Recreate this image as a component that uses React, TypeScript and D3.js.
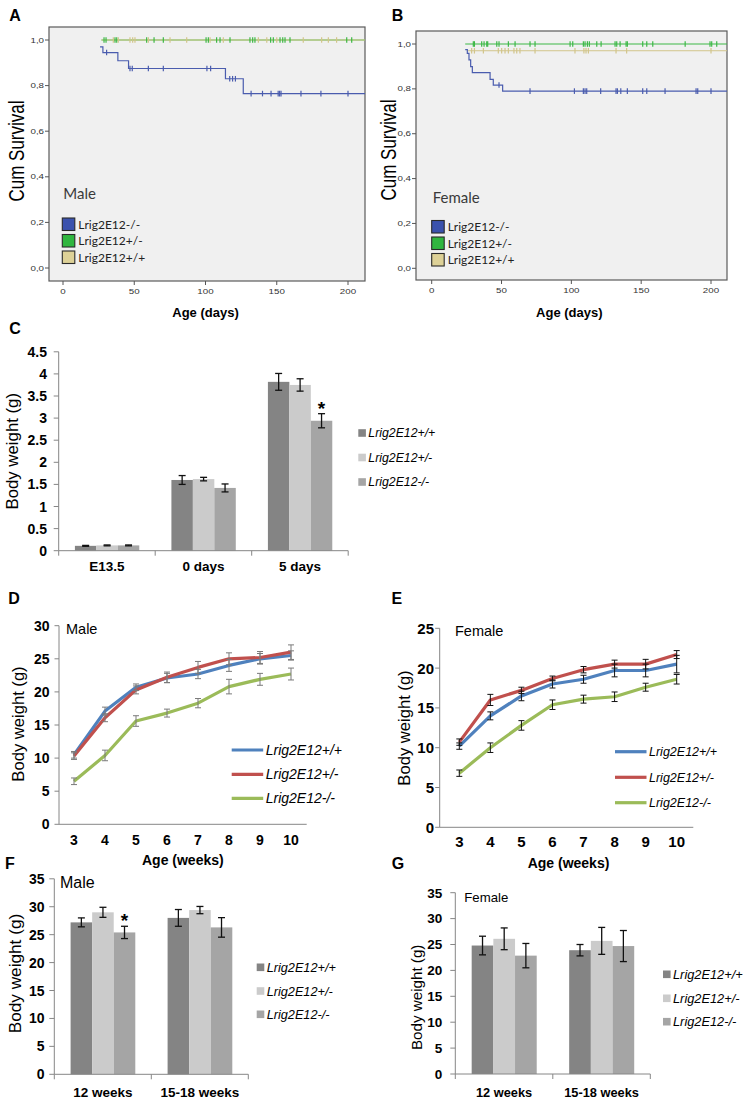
import React from 'react';
import * as d3 from 'd3';

const SANS = '"Liberation Sans", Arial, Helvetica, sans-serif';
const CAL = 'Lato, "Open Sans", sans-serif';

// ---------------- A / B : Kaplan-Meier survival ----------------
const survTicks = [0, 0.2, 0.4, 0.6, 0.8, 1.0];
const dayTicks = [0, 50, 100, 150, 200];
const survLegend = ['Lrig2E12-/-', 'Lrig2E12+/-', 'Lrig2E12+/+'];

const maleKoDays = [26, 28, 38.5, 46, 114, 126.5, 212];
const maleKoSurv = [0.97, 0.945, 0.909, 0.875, 0.83, 0.765, 0.765];
const maleKoCensor = [30.6, 47, 48.6, 59.9, 70.4, 101, 103.6, 117, 119, 121, 132, 140, 146, 151, 152, 153, 167, 181, 200];
const maleHetDays = [27, 212];
const maleHetSurv = [1, 1];
const maleHetCensor = [28.8, 30.2, 36.5, 37.7, 58.7, 63.9, 70.4, 100.4, 102, 107.8, 110.2, 117.2, 131.2, 133.1, 134.7, 145.7, 147.6, 152.3, 154.2, 155.8, 159.3, 199.1, 202.6];
const maleWtDays = [27, 212];
const maleWtSurv = [1, 1];
const maleWtCensor = [35.3, 38.8, 47, 48.9, 50.5, 59.9, 75.1, 86.8, 103.2, 112.5, 137.1, 143, 150, 168.6, 181.5, 186.2, 192];

const femaleKoDays = [24, 25.5, 26.7, 27.9, 29.1, 41.8, 44.1, 50.8, 212];
const femaleKoSurv = [0.975, 0.958, 0.929, 0.899, 0.872, 0.842, 0.817, 0.79, 0.79];
const femaleKoCensor = [48.2, 70.4, 102.2, 108.6, 109.8, 111, 121, 132, 133, 135.4, 140.1, 151.1, 154, 167.1, 189.3, 190.5, 200];
const femaleHetDays = [24, 212];
const femaleHetSurv = [1, 1];
const femaleHetCensor = [29.8, 30.6, 35.8, 37.5, 39.4, 40.1, 46.6, 48.2, 54.9, 59.7, 70.4, 74, 99.1, 101, 108.6, 109.8, 111.5, 112.9, 118.2, 121.3, 131.3, 132.5, 134.9, 139.2, 140.1, 151.1, 154, 158.3, 181.5, 199.3, 200.5, 204.1];
const femaleWtDays = [26, 212];
const femaleWtSurv = [0.97, 0.97];
const femaleWtCensor = [28.6, 30.6, 37, 47.7, 50.1, 52.5, 54.9, 58.9, 60.9, 63.2, 74, 102.6, 109, 110.5, 112.2, 132, 139.6, 200];

// ---------------- C : body weight, neonatal ----------------
const barSeries = ['Lrig2E12+/+', 'Lrig2E12+/-', 'Lrig2E12-/-'];
const cCats = ['E13.5', '0 days', '5 days'];
const cWt = [0.11, 1.6, 3.82];
const cWtErr = [0.01, 0.1, 0.19];
const cHet = [0.12, 1.62, 3.75];
const cHetErr = [0.01, 0.04, 0.14];
const cKo = [0.12, 1.42, 2.94];
const cKoErr = [0.01, 0.09, 0.16];
const cTicks = [0, 0.5, 1, 1.5, 2, 2.5, 3, 3.5, 4, 4.5];
const cStar = { cat: '5 days', series: 2 };

// ---------------- D / E : growth curves ----------------
const weeks = ['3', '4', '5', '6', '7', '8', '9', '10'];
const dWt = [10.5, 17.1, 20.7, 22.1, 22.7, 24.0, 25.0, 25.5];
const dWtErr = [0.5, 0.6, 0.5, 0.7, 0.7, 0.9, 0.8, 0.7];
const dHet = [10.3, 16.1, 20.3, 22.2, 23.7, 25.0, 25.2, 26.0];
const dHetErr = [0.5, 0.6, 0.6, 0.8, 0.9, 0.9, 0.9, 1.1];
const dKo = [6.5, 10.4, 15.6, 16.8, 18.3, 20.8, 21.9, 22.7];
const dKoErr = [0.5, 0.8, 0.8, 0.6, 0.7, 1.1, 0.9, 0.9];
const dTicks = [0, 5, 10, 15, 20, 25, 30];

const eWt = [10.2, 14.0, 16.5, 18.0, 18.6, 19.7, 19.7, 20.5];
const eWtErr = [0.4, 0.5, 0.6, 0.5, 0.5, 0.8, 0.8, 1.1];
const eHet = [10.7, 16.0, 17.2, 18.7, 19.8, 20.5, 20.5, 21.7];
const eHetErr = [0.4, 0.7, 0.4, 0.3, 0.4, 0.5, 0.6, 0.5];
const eKo = [6.8, 10.0, 12.8, 15.4, 16.1, 16.4, 17.6, 18.6];
const eKoErr = [0.4, 0.6, 0.6, 0.6, 0.5, 0.6, 0.5, 0.6];
const eTicks = [0, 5, 10, 15, 20, 25];

// ---------------- F / G : adult weights ----------------
const adultCats = ['12 weeks', '15-18 weeks'];
const fWt = [27.2, 28.0];
const fWtErr = [0.8, 1.5];
const fHet = [29.0, 29.4];
const fHetErr = [0.9, 0.65];
const fKo = [25.4, 26.3];
const fKoErr = [1.1, 1.75];
const fStar = { cat: '12 weeks', series: 2 };
const gWt = [24.8, 23.9];
const gWtErr = [1.8, 1.1];
const gHet = [26.1, 25.7];
const gHetErr = [2.1, 2.6];
const gKo = [22.85, 24.7];
const gKoErr = [2.35, 3.0];
const fgTicks = [0, 5, 10, 15, 20, 25, 30, 35];

// ---------------- styles ----------------
const survLine = ['#4a5cae', '#3cb846', '#d2c58a'];
const survFill = ['#3b52ad', '#30b63f', '#ddd197'];
const barColors = ['#848484', '#cbcbcb', '#a5a5a5'];
const lineColors = ['#4f81bd', '#c0504d', '#9bbb59'];
const AXIS = '#868686';

type Curve = { days: number[]; surv: number[]; censor: number[]; color: string };

function survAt(c: Curve, d: number) {
  let s = c.surv[0];
  c.days.forEach((dd, i) => { if (dd <= d) s = c.surv[i]; });
  return s;
}

function Survival({ L, curves, title, id }: any) {
  const x = d3.scaleLinear().domain([0, 200]).range(L.xRange);
  const y = d3.scaleLinear().domain([0, 1]).range(L.yRange);
  const line = d3.line<[number, number]>().x(p => x(p[0])).y(p => y(p[1])).curve(d3.curveStepAfter);
  const f = L.frame;
  const fmt = (v: number) => v.toFixed(1).replace('.', ',');
  return (
    <g>
      <defs>
        <clipPath id={id}><rect x={f.l} y={f.t} width={f.r - f.l} height={f.b - f.t} /></clipPath>
      </defs>
      <rect x={f.l} y={f.t} width={f.r - f.l} height={f.b - f.t} fill="#f0f0f0" stroke="#5a5a5a" strokeWidth={1.2} />
      {survTicks.map(t => (
        <g key={t}>
          <line x1={f.l - 4} x2={f.l} y1={y(t)} y2={y(t)} stroke="#555" />
          <text transform={`translate(${f.l - 5},${y(t) + 2.5}) scale(1.3,1)`} textAnchor="end" fontSize={7.5} fill="#333">{fmt(t)}</text>
        </g>
      ))}
      {dayTicks.map(t => (
        <g key={t}>
          <line x1={x(t)} x2={x(t)} y1={f.b} y2={f.b + 4} stroke="#555" />
          <text transform={`translate(${x(t)},${f.b + 12.5}) scale(1.3,1)`} textAnchor="middle" fontSize={7.5} fill="#333">{t}</text>
        </g>
      ))}
      <g clipPath={`url(#${id})`}>
        {curves.map((c: Curve, i: number) => (
          <path key={i} d={line(c.days.map((d, k) => [d, c.surv[k]] as [number, number])) || ''} fill="none" stroke={c.color} strokeWidth={1.2} />
        ))}
        {curves.map((c: Curve, i: number) => (
          <g key={'c' + i}>
            {c.censor.map((d, k) => (
              <line key={k} x1={x(d)} x2={x(d)} y1={y(survAt(c, d)) - 2.8} y2={y(survAt(c, d)) + 2.8} stroke={c.color} strokeWidth={1.2} />
            ))}
          </g>
        ))}
      </g>
      <text transform={`translate(${L.ylabX},${L.ylabY}) rotate(-90) scale(1,1.3)`} textAnchor="middle" dominantBaseline="central" fontSize={17}>Cum Survival</text>
      <text x={(L.xRange[0] + L.xRange[1]) / 2 + L.xlabDx} y={316.5} textAnchor="middle" fontSize={13} fontWeight="bold">Age (days)</text>
      <text x={L.legX + 1} y={L.titleY} fontSize={15} fontFamily={CAL} fill="#3a3a3a">{title}</text>
      {survLegend.map((s, i) => (
        <g key={s}>
          <rect x={L.legX} y={L.rowY[i] - 6} width={12.5} height={12.5} fill={survFill[i]} stroke="#2a2a2a" strokeWidth={1.1} />
          <text x={L.legX + 16} y={L.rowY[i] + 4.5} fontSize={12} fontFamily={CAL} fill="#222">{s}</text>
        </g>
      ))}
    </g>
  );
}

function ErrBar({ x, y1, y2, w, color, sw }: any) {
  return (
    <g stroke={color} strokeWidth={sw}>
      <line x1={x} x2={x} y1={y1} y2={y2} />
      <line x1={x - w / 2} x2={x + w / 2} y1={y1} y2={y1} />
      <line x1={x - w / 2} x2={x + w / 2} y1={y2} y2={y2} />
    </g>
  );
}

function BarPanel({ cats, vals, errs, yMax, ticks, L, star }: any) {
  const x0 = d3.scaleBand<string>().domain(cats).range([L.x0, L.x1]).padding(0);
  const bw = x0.bandwidth();
  const x1 = d3.scaleBand<string>().domain(barSeries).range([bw * 0.168, bw * 0.835]).padding(0);
  const y = d3.scaleLinear().domain([0, yMax]).range([L.yB, L.yT]);
  const fmt = (v: number) => String(v);
  return (
    <g>
      {cats.map((c: string, ci: number) => barSeries.map((s, si) => {
        const v = vals[si][ci];
        const e = errs[si][ci];
        const bx = (x0(c) as number) + (x1(s) as number);
        return (
          <g key={c + s}>
            <rect x={bx} y={y(v)} width={x1.bandwidth()} height={L.yB - y(v)} fill={barColors[si]} />
            <ErrBar x={bx + x1.bandwidth() / 2} y1={y(v + e)} y2={y(v - e)} w={7} color="#111" sw={1.3} />
          </g>
        );
      }))}
      {star && (() => {
        const ci = cats.indexOf(star.cat);
        const si = star.series;
        const bx = (x0(star.cat) as number) + (x1(barSeries[si]) as number) + x1.bandwidth() / 2;
        const top = y(vals[si][ci] + errs[si][ci]);
        return <text x={bx} y={top + 1} textAnchor="middle" fontSize={19} fontWeight="bold">*</text>;
      })()}
      <line x1={L.x0} x2={L.x0} y1={L.yT} y2={L.yB} stroke={AXIS} />
      <line x1={L.x0} x2={L.x1} y1={L.yB} y2={L.yB} stroke={AXIS} />
      {ticks.map((t: number) => (
        <g key={t}>
          <line x1={L.x0 - 5} x2={L.x0} y1={y(t)} y2={y(t)} stroke={AXIS} />
          <text x={L.tickRight} y={y(t)} dy="0.36em" textAnchor="end" fontSize={L.tickFont} fontWeight="bold">{fmt(t)}</text>
        </g>
      ))}
      {[...cats.map((c: string) => x0(c) as number), L.x1].map((xx: number, i: number) => (
        <line key={i} x1={xx} x2={xx} y1={L.yB} y2={L.yB + 5} stroke={AXIS} />
      ))}
      {cats.map((c: string) => (
        <text key={c} x={(x0(c) as number) + bw / 2} y={L.catY} textAnchor="middle" fontSize={L.catFont} fontWeight="bold">{c}</text>
      ))}
      <text transform={`translate(${L.ylabX},${(L.yT + L.yB) / 2 + L.ylabDy}) rotate(-90)`} textAnchor="middle" dominantBaseline="central" fontSize={L.ylabFont}>Body weight (g)</text>
      {L.title && <text x={L.titleX} y={L.titleY} fontSize={L.titleFont}>{L.title}</text>}
      {barSeries.map((s, i) => (
        <g key={s}>
          <rect x={L.legX} y={L.legY[i] - 3.8} width={7.6} height={7.6} fill={barColors[i]} />
          <text x={L.legX + 10} y={L.legY[i]} dy="0.36em" fontSize={L.legFont} fontStyle="italic">{s}</text>
        </g>
      ))}
    </g>
  );
}

function LinePanel({ vals, errs, yMax, ticks, L, errColor }: any) {
  const x = d3.scalePoint<string>().domain(weeks).range(L.xRange);
  const y = d3.scaleLinear().domain([0, yMax]).range([L.yB, L.yT]);
  const line = d3.line<number>().x((_, i) => x(weeks[i]) as number).y(v => y(v));
  return (
    <g>
      <line x1={L.axX} x2={L.axX} y1={L.yT} y2={L.yB} stroke={AXIS} />
      <line x1={L.axX} x2={L.axR} y1={L.yB} y2={L.yB} stroke={AXIS} />
      {ticks.map((t: number) => (
        <g key={t}>
          <line x1={L.axX - 4.5} x2={L.axX} y1={y(t)} y2={y(t)} stroke={AXIS} />
          <text x={L.tickRight} y={y(t)} dy="0.36em" textAnchor="end" fontSize={L.tickFont} fontWeight="bold">{t}</text>
        </g>
      ))}
      {weeks.map(w => (
        <text key={w} x={x(w)} y={L.catY} textAnchor="middle" fontSize={L.tickFont} fontWeight="bold">{w}</text>
      ))}
      {vals.map((s: number[], si: number) => (
        <path key={si} d={line(s) || ''} fill="none" stroke={lineColors[si]} strokeWidth={3.2} strokeLinejoin="round" />
      ))}
      {vals.map((s: number[], si: number) => s.map((v, k) => (
        <ErrBar key={si + '-' + k} x={x(weeks[k])} y1={y(v + errs[si][k])} y2={y(v - errs[si][k])} w={6} color={errColor} sw={1} />
      )))}
      <text x={(L.axX + L.axR) / 2 + L.xlabDx} y={L.xlabY} textAnchor="middle" fontSize={14} fontWeight="bold">Age (weeks)</text>
      <text transform={`translate(${L.ylabX},${L.ylabY}) rotate(-90)`} textAnchor="middle" dominantBaseline="central" fontSize={16.6}>Body weight (g)</text>
      <text x={L.titleX} y={L.titleY} fontSize={L.titleFont}>{L.title}</text>
      {barSeries.map((s, i) => (
        <g key={s}>
          <line x1={L.legX} x2={L.legX + 31.5} y1={L.legY[i]} y2={L.legY[i]} stroke={lineColors[i]} strokeWidth={3.2} />
          <text x={L.legX + 34} y={L.legY[i]} dy="0.36em" fontSize={L.legFont} fontStyle="italic">{s}</text>
        </g>
      ))}
    </g>
  );
}

const layoutA = {
  frame: { l: 49, t: 27, r: 365, b: 281 }, xRange: [63, 348], yRange: [268, 40],
  ylabX: 16.5, ylabY: 151, xlabDx: 0, legX: 62.3, titleY: 198.5, rowY: [224, 240.5, 257],
};
const layoutB = {
  frame: { l: 416, t: 31, r: 727, b: 280 }, xRange: [431.7, 711], yRange: [268.3, 44],
  ylabX: 388.5, ylabY: 150, xlabDx: -2, legX: 431.7, titleY: 202.5, rowY: [226.5, 243, 259.5],
};

const layoutC = {
  x0: 58.7, x1: 348.2, yB: 550.7, yT: 351.8, tickRight: 47, tickFont: 14, catY: 571, catFont: 13.5,
  ylabX: 12.5, ylabDy: 0, ylabFont: 16.8, legX: 358.3, legY: [433, 457.5, 482], legFont: 12.3,
};
const layoutF = {
  x0: 54.3, x1: 248.3, yB: 1074.3, yT: 878.8, tickRight: 44.5, tickFont: 14, catY: 1096.5, catFont: 13.5,
  ylabX: 15, ylabDy: -3, ylabFont: 17.2, legX: 256.7, legY: [967.3, 991, 1014.3], legFont: 12.7,
  title: 'Male', titleX: 60, titleY: 887.5, titleFont: 16,
};
const layoutG = {
  x0: 455.3, x1: 650.3, yB: 1074, yT: 892.7, tickRight: 442.3, tickFont: 13.5, catY: 1096.5, catFont: 12.8,
  ylabX: 416.3, ylabDy: 14, ylabFont: 15.2, legX: 663, legY: [974.3, 998.3, 1021.7], legFont: 12.8,
  title: 'Female', titleX: 464.3, titleY: 902, titleFont: 13.2,
};
const layoutD = {
  xRange: [74, 291], yB: 824.3, yT: 625.7, axX: 59, axR: 306.7, tickRight: 49.5, tickFont: 14, catY: 845,
  xlabDx: 0, xlabY: 864.5, ylabX: 18.3, ylabY: 724, title: 'Male', titleX: 66, titleY: 633.5, titleFont: 14.5,
  legX: 231.7, legY: [750, 774.3, 798.3], legFont: 14,
};
const layoutE = {
  xRange: [459.3, 676.7], yB: 827.3, yT: 628.3, axX: 439.7, axR: 693.3, tickRight: 434, tickFont: 15, catY: 846.5,
  xlabDx: 2, xlabY: 868, ylabX: 404, ylabY: 728, title: 'Female', titleX: 455, titleY: 635.5, titleFont: 14.5,
  legX: 615, legY: [751.7, 777.3, 802.7], legFont: 12.5,
};

const panelLetters = [
  { t: 'A', x: 9.3, y: 21 }, { t: 'B', x: 391.7, y: 20.5 }, { t: 'C', x: 9.3, y: 333.5 },
  { t: 'D', x: 8.3, y: 604 }, { t: 'E', x: 391.5, y: 604 }, { t: 'F', x: 5, y: 869 }, { t: 'G', x: 391.7, y: 869 },
];

export default function App() {
  const maleCurves: Curve[] = [
    { days: maleHetDays, surv: maleHetSurv, censor: maleHetCensor, color: survLine[1] },
    { days: maleWtDays, surv: maleWtSurv, censor: maleWtCensor, color: survLine[2] },
    { days: maleKoDays, surv: maleKoSurv, censor: maleKoCensor, color: survLine[0] },
  ];
  const femaleCurves: Curve[] = [
    { days: femaleHetDays, surv: femaleHetSurv, censor: femaleHetCensor, color: survLine[1] },
    { days: femaleWtDays, surv: femaleWtSurv, censor: femaleWtCensor, color: survLine[2] },
    { days: femaleKoDays, surv: femaleKoSurv, censor: femaleKoCensor, color: survLine[0] },
  ];
  return (
    <svg width={754} height={1103} style={{ position: 'absolute', left: 0, top: 0, background: '#fff' }} fontFamily={SANS}>
      <rect width={754} height={1103} fill="#fff" />
      <Survival id="clipA" L={layoutA} curves={maleCurves} title="Male" />
      <Survival id="clipB" L={layoutB} curves={femaleCurves} title="Female" />
      <BarPanel cats={cCats} vals={[cWt, cHet, cKo]} errs={[cWtErr, cHetErr, cKoErr]} yMax={4.5} ticks={cTicks} L={layoutC} star={cStar} />
      <LinePanel vals={[dWt, dHet, dKo]} errs={[dWtErr, dHetErr, dKoErr]} yMax={30} ticks={dTicks} L={layoutD} errColor="#7a7a7a" />
      <LinePanel vals={[eWt, eHet, eKo]} errs={[eWtErr, eHetErr, eKoErr]} yMax={25} ticks={eTicks} L={layoutE} errColor="#111" />
      <BarPanel cats={adultCats} vals={[fWt, fHet, fKo]} errs={[fWtErr, fHetErr, fKoErr]} yMax={35} ticks={fgTicks} L={layoutF} star={fStar} />
      <BarPanel cats={adultCats} vals={[gWt, gHet, gKo]} errs={[gWtErr, gHetErr, gKoErr]} yMax={35} ticks={fgTicks} L={layoutG} />
      {panelLetters.map(p => (
        <text key={p.t} x={p.x} y={p.y} fontSize={16} fontWeight="bold">{p.t}</text>
      ))}
    </svg>
  );
}
